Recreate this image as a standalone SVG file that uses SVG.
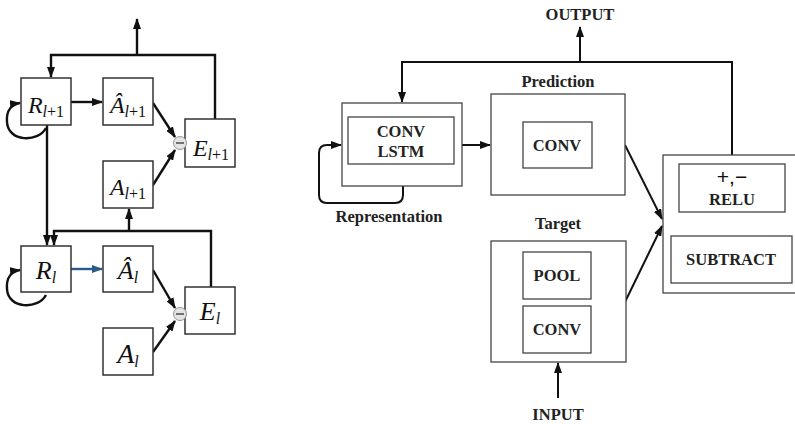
<svg xmlns="http://www.w3.org/2000/svg" width="795" height="424" viewBox="0 0 795 424">
<style>
.box{fill:#fff;stroke:#333;stroke-width:1.5}
.rbox{fill:#fff;stroke:#444;stroke-width:1.3}
.ln{fill:none;stroke:#111;stroke-width:2.4}
.rl{fill:none;stroke:#111;stroke-width:2}
.m{font-family:"Liberation Serif","DejaVu Serif",serif;font-size:24px;fill:#111;text-anchor:middle}
.m2{font-size:26px}
.i{font-style:italic}
.s{font-size:16px}
.b{font-family:"Liberation Serif","DejaVu Serif",serif;font-weight:bold;font-size:16.5px;fill:#222;text-anchor:middle}
</style>
<defs>
<marker id="ah" markerWidth="11" markerHeight="8" refX="10" refY="4" orient="auto" markerUnits="userSpaceOnUse"><path d="M0,0 L11,4 L0,8 z" fill="#111"/></marker>
<marker id="ahb" markerWidth="11" markerHeight="8" refX="10" refY="4" orient="auto" markerUnits="userSpaceOnUse"><path d="M0,0 L11,4 L0,8 z" fill="#295a8a"/></marker>
</defs>
<rect width="795" height="424" fill="#fff"/>

<g id="connectors">
<path class="ln" d="M215,119 V55 H51 V77" marker-end="url(#ah)"/>
<path class="ln" d="M137,55 V19" marker-end="url(#ah)"/>
<path class="ln" d="M71,102 H102" marker-end="url(#ah)"/>
<path class="ln" d="M153,103 L175,137" marker-end="url(#ah)"/>
<path class="ln" d="M153,185 L175,150" marker-end="url(#ah)"/>
<path class="ln" d="M47,125 V245" marker-end="url(#ah)"/>
<path class="ln" d="M46,128 C38,143 8,142 7,122 C6,110 12,104 20,103" marker-end="url(#ah)"/>
<path class="ln" d="M211,287 V231 H54 V245" marker-end="url(#ah)"/>
<path class="ln" d="M129,231 V209" marker-end="url(#ah)"/>
<path d="M71,269 H102" fill="none" stroke="#295a8a" stroke-width="2.4" marker-end="url(#ahb)"/>
<path class="ln" d="M153,270 L175,308" marker-end="url(#ah)"/>
<path class="ln" d="M153,352 L175,321" marker-end="url(#ah)"/>
<path class="ln" d="M46,295 C38,310 8,309 7,289 C6,277 12,271 20,270" marker-end="url(#ah)"/>
<path class="rl" d="M732,155 V62 H402 V102" marker-end="url(#ah)"/>
<path class="rl" d="M580,62 V27" marker-end="url(#ah)"/>
<path class="rl" d="M462,145 H490" marker-end="url(#ah)"/>
<path class="rl" d="M403,186 V195 Q403,203 395,203 H327 Q319,203 319,195 V153 Q319,145 327,145 H341" marker-end="url(#ah)"/>
<path class="rl" d="M625,145 L662,219" marker-end="url(#ah)"/>
<path class="rl" d="M625,302 L662,226" marker-end="url(#ah)"/>
<path class="rl" d="M558,398 V363" marker-end="url(#ah)"/>
</g>

<g id="R_l1"><rect class="box" x="21" y="78" width="50" height="47"/>
<text class="m" x="46" y="113"><tspan class="i">R</tspan><tspan class="s" dy="4"><tspan class="i">l</tspan>+1</tspan></text></g>
<g id="Ahat_l1"><rect class="box" x="103" y="78" width="50" height="47"/>
<text class="m" x="128" y="113"><tspan class="i">Â</tspan><tspan class="s" dy="4"><tspan class="i">l</tspan>+1</tspan></text></g>
<g id="E_l1"><rect class="box" x="185" y="119" width="50" height="48"/>
<text class="m" x="211" y="156"><tspan class="i">E</tspan><tspan class="s" dy="4"><tspan class="i">l</tspan>+1</tspan></text></g>
<g id="A_l1"><rect class="box" x="103" y="161" width="50" height="47"/>
<text class="m" x="128" y="195"><tspan class="i">A</tspan><tspan class="s" dy="4"><tspan class="i">l</tspan>+1</tspan></text></g>
<g id="minus1"><circle cx="180" cy="143" r="6.5" fill="#e4e4e4" stroke="#999" stroke-width="1"/><path d="M176,143 H184" stroke="#333" stroke-width="1.3"/></g>

<g id="R_l"><rect class="box" x="21" y="246" width="50" height="46"/>
<text class="m m2" x="46" y="279"><tspan class="i">R</tspan><tspan class="s i" dy="4">l</tspan></text></g>
<g id="Ahat_l"><rect class="box" x="103" y="246" width="50" height="46"/>
<text class="m m2" x="128" y="279"><tspan class="i">Â</tspan><tspan class="s i" dy="4">l</tspan></text></g>
<g id="E_l"><rect class="box" x="185" y="287" width="50" height="47"/>
<text class="m m2" x="210" y="320"><tspan class="i">E</tspan><tspan class="s i" dy="4">l</tspan></text></g>
<g id="A_l"><rect class="box" x="103" y="328" width="50" height="47"/>
<text class="m" x="128" y="363" style="font-size:28px"><tspan class="i">A</tspan><tspan class="s i" dy="4">l</tspan></text></g>
<g id="minus2"><circle cx="180" cy="314" r="6.5" fill="#e4e4e4" stroke="#999" stroke-width="1"/><path d="M176,314 H184" stroke="#333" stroke-width="1.3"/></g>

<g id="representation"><rect class="rbox" x="342" y="103" width="120" height="83"/>
<rect class="rbox" x="348" y="117" width="106" height="47"/>
<text class="b" x="401" y="137">CONV</text><text class="b" x="401" y="157">LSTM</text>
<text class="b" x="389" y="222">Representation</text></g>

<g id="prediction"><rect class="rbox" x="491" y="94" width="134" height="101"/>
<rect class="rbox" x="523" y="122" width="69" height="46"/>
<text class="b" x="557" y="151">CONV</text>
<text class="b" x="558" y="87">Prediction</text></g>

<g id="target"><rect class="rbox" x="491" y="241" width="135" height="121"/>
<rect class="rbox" x="523" y="252" width="68" height="47"/>
<text class="b" x="557" y="281">POOL</text>
<rect class="rbox" x="523" y="306" width="68" height="47"/>
<text class="b" x="557" y="335">CONV</text>
<text class="b" x="558" y="229">Target</text></g>

<g id="error"><rect class="rbox" x="663" y="155" width="140" height="138"/>
<rect class="rbox" x="679" y="164" width="106" height="48"/>
<text x="732" y="184" font-family="Liberation Sans, Arial, sans-serif" font-size="21" fill="#111" text-anchor="middle">+,−</text>
<text class="b" x="732" y="205">RELU</text>
<rect class="rbox" x="671" y="236" width="121" height="47"/>
<text class="b" x="731" y="265">SUBTRACT</text></g>

<g id="labels"><text class="b" x="580" y="20">OUTPUT</text><text class="b" x="558" y="420">INPUT</text></g>
</svg>
